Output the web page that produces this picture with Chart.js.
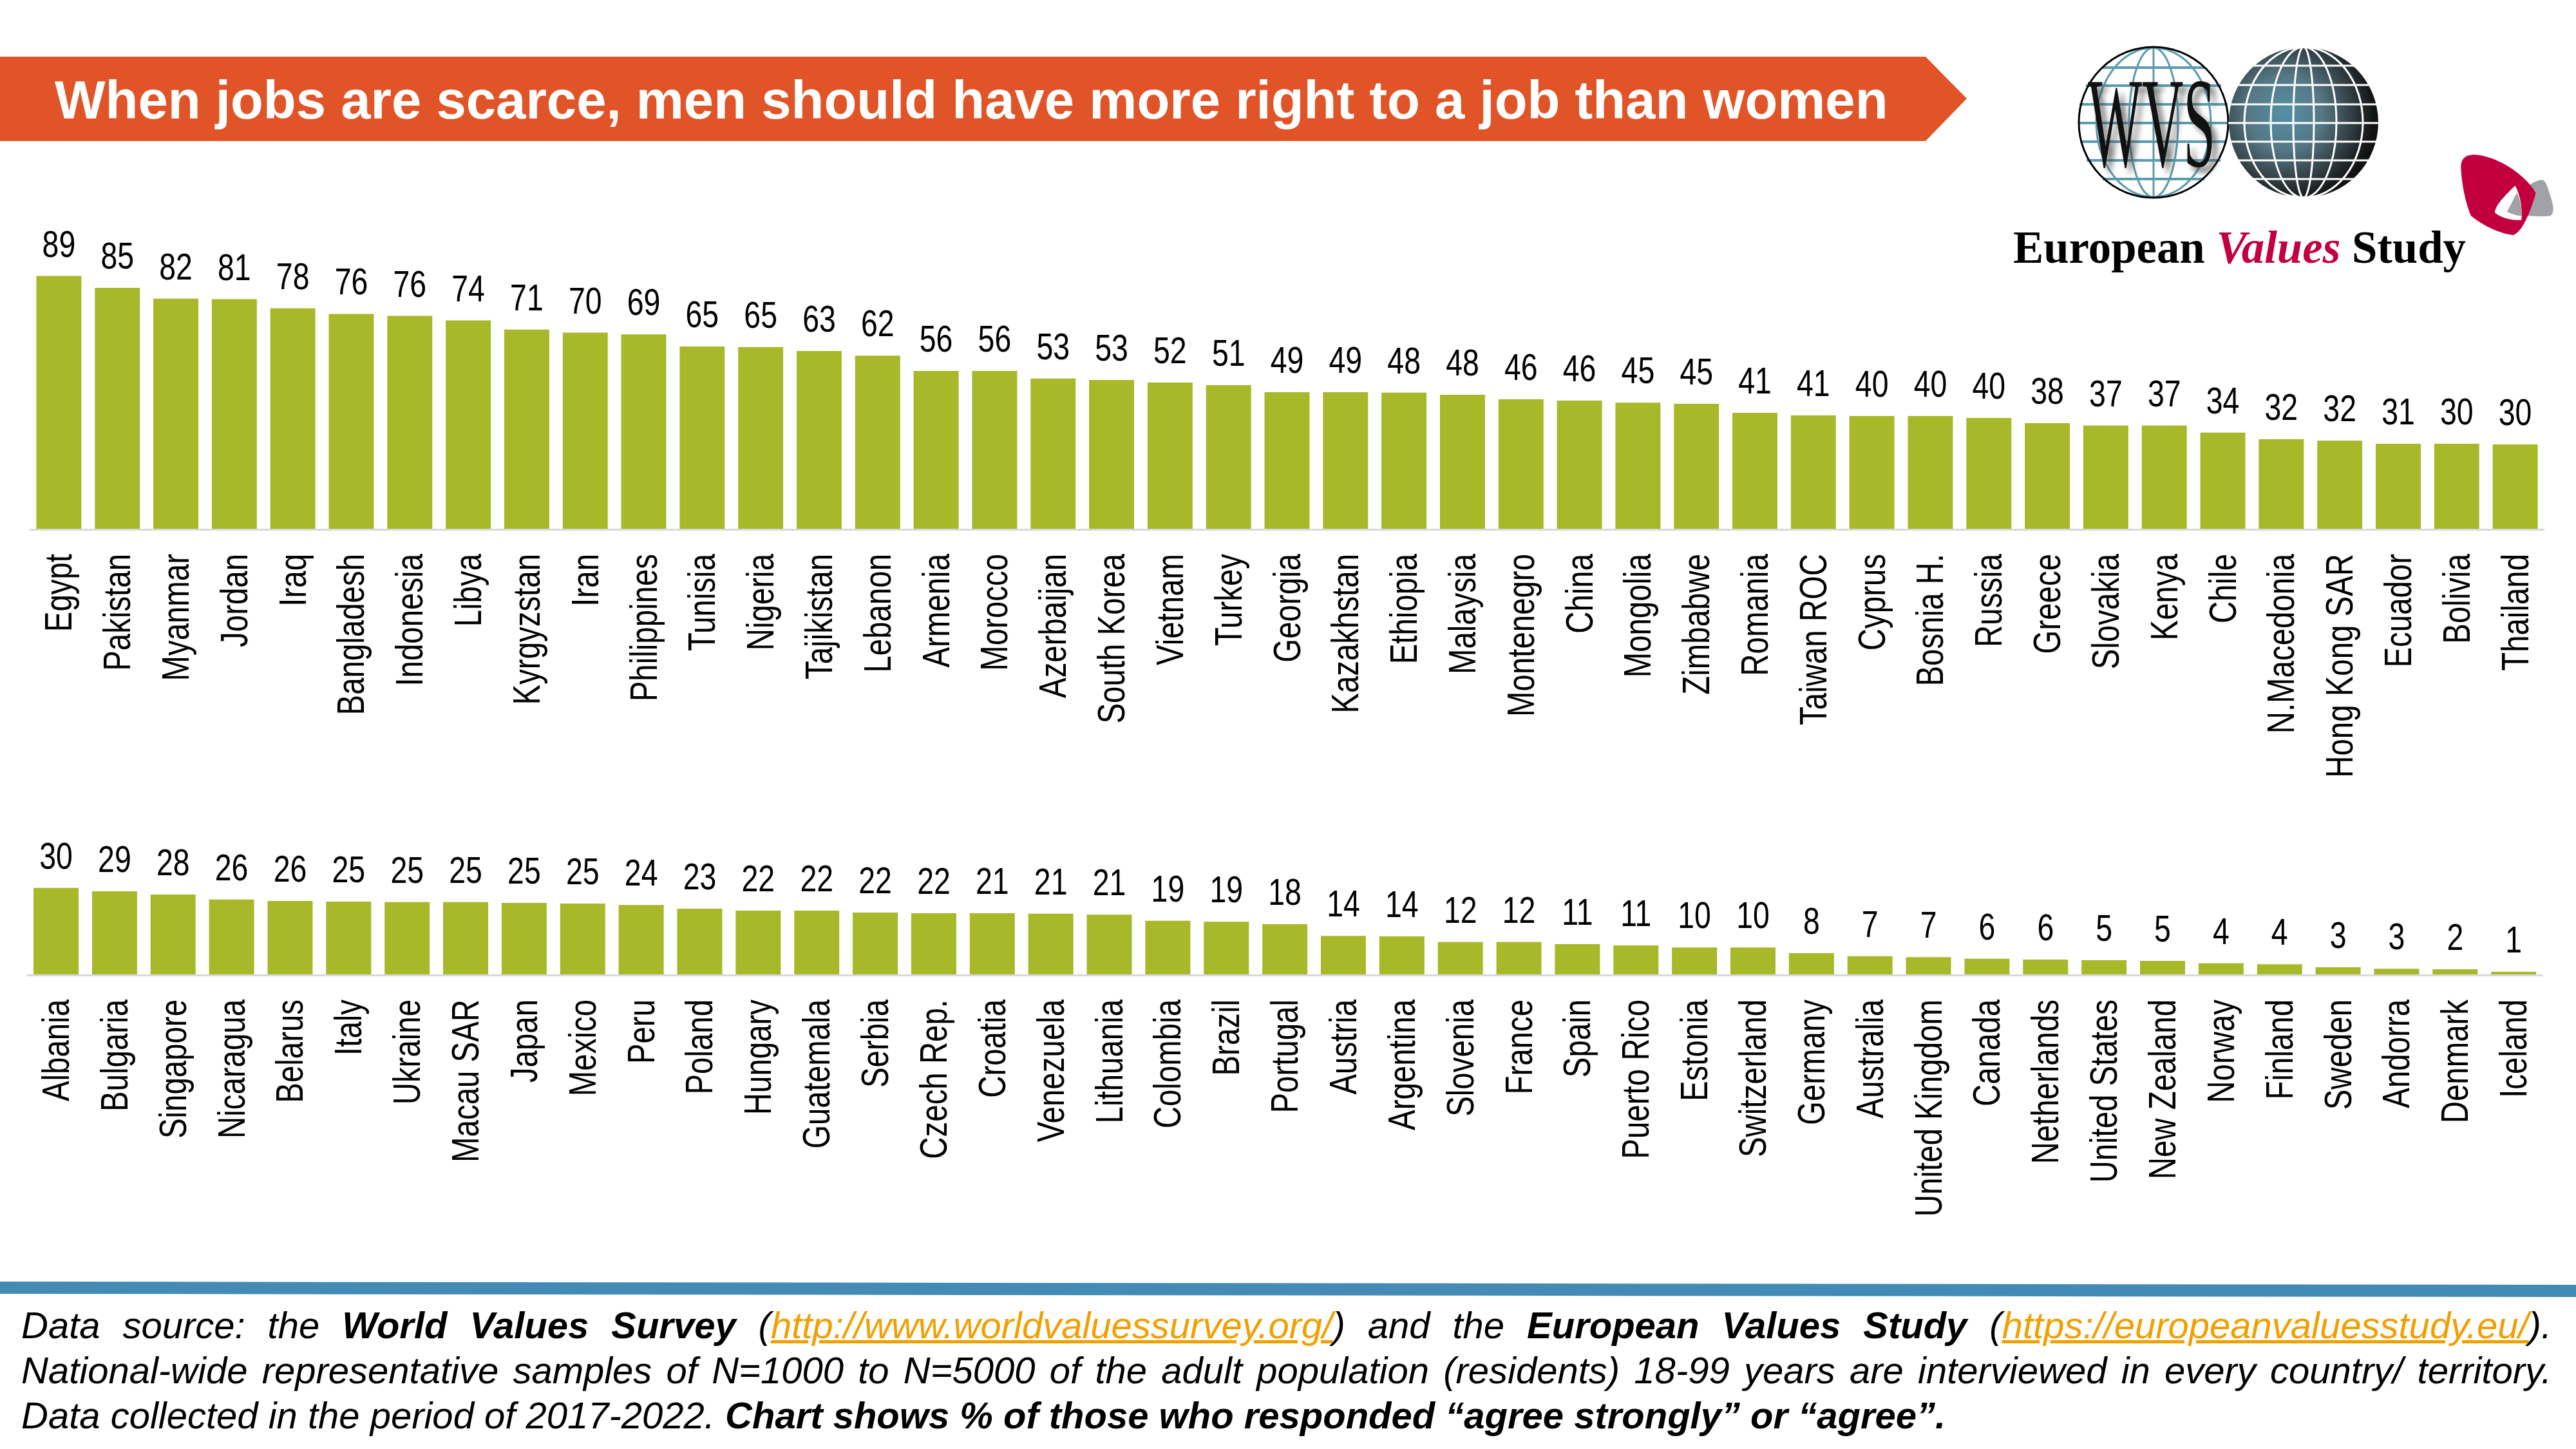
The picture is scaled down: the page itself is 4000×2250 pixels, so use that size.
<!DOCTYPE html>
<html>
<head>
<meta charset="utf-8">
<script src="https://cdn.jsdelivr.net/npm/chart.js@4"></script>
<style>
html,body{margin:0;padding:0;background:#fff;}
#page{position:relative;width:4000px;height:2250px;overflow:hidden;background:#fff;}
canvas{position:absolute;left:0;}
svg{position:absolute;left:0;top:0;}
#title{position:absolute;left:85px;top:106px;font:bold 83.3px "Liberation Sans",Arial,sans-serif;color:#fff;white-space:nowrap;line-height:100px;}
.foot{position:absolute;left:33px;width:3929px;font:italic 58px/70px "Liberation Sans",Arial,sans-serif;color:#000;white-space:normal;}
.just{text-align:justify;text-align-last:justify;}
.foot a{color:#F0A000;text-decoration:underline;}
</style>
</head>
<body>
<div id="page">
<svg width="4000" height="2250" viewBox="0 0 4000 2250">
  <defs>
    <radialGradient id="dark" gradientUnits="userSpaceOnUse" cx="3548" cy="175" r="145">
      <stop offset="0" stop-color="#5590A6"/><stop offset="0.4" stop-color="#557884"/><stop offset="0.7" stop-color="#354248"/><stop offset="0.95" stop-color="#131515"/><stop offset="1" stop-color="#111"/>
    </radialGradient>
    <filter id="blur" x="-20%" y="-20%" width="140%" height="140%"><feGaussianBlur stdDeviation="5"/></filter>
  </defs>
  <polygon points="0,88 2990,88 3054,153 2990,219 0,219" fill="#E05427"/>
  <polygon points="0,1990 4000,1995 4000,2014 0,2009" fill="#438BB5"/>
  <g fill="none" stroke="#5B9BAE" stroke-width="3">
    <ellipse cx="3344" cy="190" rx="89" ry="116"/>
    <ellipse cx="3344" cy="190" rx="38" ry="116"/>
    <line x1="3344" y1="74" x2="3344" y2="306"/>
    <line x1="3264" y1="105" x2="3424" y2="105" stroke-width="4"/>
    <line x1="3239" y1="133" x2="3449" y2="133" stroke-width="4"/>
    <line x1="3229" y1="162" x2="3459" y2="162" stroke-width="4"/>
    <line x1="3228" y1="191" x2="3460" y2="191" stroke-width="4"/>
    <line x1="3230" y1="220" x2="3458" y2="220" stroke-width="4"/>
    <line x1="3240" y1="249" x2="3448" y2="249" stroke-width="4"/>
    <line x1="3265" y1="278" x2="3423" y2="278" stroke-width="4"/>
  </g>
  <ellipse cx="3344" cy="190" rx="116" ry="117" fill="none" stroke="#000" stroke-width="3"/>
  <text x="3250" y="266" font-family="Liberation Serif" font-size="200" textLength="198" lengthAdjust="spacingAndGlyphs" fill="#444" opacity="0.75" filter="url(#blur)">WVS</text>
  <text x="3242" y="258" font-family="Liberation Serif" font-size="200" textLength="198" lengthAdjust="spacingAndGlyphs" fill="#111">WVS</text>
  <ellipse cx="3577" cy="190" rx="116" ry="117" fill="url(#dark)"/>
  <g fill="none" stroke="#fff" stroke-width="3">
    <ellipse cx="3577" cy="190" rx="92" ry="117"/>
    <ellipse cx="3577" cy="190" rx="51" ry="117"/>
    <ellipse cx="3577" cy="190" rx="16" ry="117"/>
    <line x1="3480" y1="102" x2="3674" y2="102"/>
    <line x1="3460" y1="132" x2="3694" y2="132"/>
    <line x1="3460" y1="162" x2="3694" y2="162"/>
    <line x1="3460" y1="191" x2="3694" y2="191"/>
    <line x1="3460" y1="220" x2="3694" y2="220"/>
    <line x1="3460" y1="249" x2="3694" y2="249"/>
    <line x1="3480" y1="278" x2="3674" y2="278"/>
  </g>
  <g transform="translate(3000 40) scale(0.6378 0.3333)">
    <path d="M1485,718 C1465,722 1450,745 1440,780 L1400,865 C1420,885 1470,892 1505,886 C1518,870 1512,830 1505,790 C1498,750 1495,720 1485,718 Z" fill="#A0A2A5"/>
    <path d="M1320,600 C1295,602 1286,625 1288,670 C1290,740 1298,820 1312,885 C1340,930 1385,970 1415,975 C1435,965 1455,880 1470,780 C1455,720 1390,610 1320,600 Z" fill="#C20040"/>
    <path d="M1420,745 C1395,790 1372,835 1370,870 C1385,895 1410,908 1435,905 C1438,850 1432,790 1420,745 Z" fill="#fff"/>
    <path d="M1424,778 C1415,810 1408,840 1400,866 C1412,878 1424,884 1436,886 C1436,850 1432,810 1424,778 Z" fill="#A0A2A5"/>
  </g>
  <text x="3126" y="408" font-family="Liberation Serif" font-weight="bold" font-size="72" textLength="703" lengthAdjust="spacingAndGlyphs" fill="#000">European <tspan font-style="italic" fill="#C20040">Values</tspan> Study</text>
</svg>
<div id="title">When jobs are scarce, men should have more right to a job than women</div>
<canvas id="top"></canvas>
<canvas id="bottom"></canvas>
<div class="foot just" style="top:2023px">Data source: the <b>World Values Survey</b> (<a>http://www.worldvaluessurvey.org/</a>) and the <b>European Values Study</b> (<a>https://europeanvaluesstudy.eu/</a>).</div>
<div class="foot just" style="top:2093px">National-wide representative samples of N=1000 to N=5000 of the adult population (residents) 18-99 years are interviewed in every country/ territory.</div>
<div class="foot" style="top:2163px">Data collected in the period of 2017-2022. <b>Chart shows % of those who responded “agree strongly” or “agree”.</b></div>
</div>
<script>
const categoriesTop = ["Egypt","Pakistan","Myanmar","Jordan","Iraq","Bangladesh","Indonesia","Libya","Kyrgyzstan","Iran","Philippines","Tunisia","Nigeria","Tajikistan","Lebanon","Armenia","Morocco","Azerbaijan","South Korea","Vietnam","Turkey","Georgia","Kazakhstan","Ethiopia","Malaysia","Montenegro","China","Mongolia","Zimbabwe","Romania","Taiwan ROC","Cyprus","Bosnia H.","Russia","Greece","Slovakia","Kenya","Chile","N.Macedonia","Hong Kong SAR","Ecuador","Bolivia","Thailand"];
const barsTop = [89.2,85.0,81.2,81.0,77.8,75.8,75.1,73.5,70.3,69.2,68.6,64.3,64.1,62.7,61.1,55.7,55.7,53.0,52.5,51.6,50.7,48.2,48.2,48.0,47.3,45.7,45.2,44.5,44.1,40.9,40.0,39.8,39.8,39.1,37.3,36.4,36.4,33.9,31.6,31.1,30.0,30.0,29.8];
const printedTop = [89,85,82,81,78,76,76,74,71,70,69,65,65,63,62,56,56,53,53,52,51,49,49,48,48,46,46,45,45,41,41,40,40,40,38,37,37,34,32,32,31,30,30];
const categoriesBottom = ["Albania","Bulgaria","Singapore","Nicaragua","Belarus","Italy","Ukraine","Macau SAR","Japan","Mexico","Peru","Poland","Hungary","Guatemala","Serbia","Czech Rep.","Croatia","Venezuela","Lithuania","Colombia","Brazil","Portugal","Austria","Argentina","Slovenia","France","Spain","Puerto Rico","Estonia","Switzerland","Germany","Australia","United Kingdom","Canada","Netherlands","United States","New Zealand","Norway","Finland","Sweden","Andorra","Denmark","Iceland"];
const barsBottom = [30.5,29.3,28.2,26.4,25.9,25.7,25.5,25.5,25.2,25.0,24.5,23.2,22.5,22.5,21.8,21.6,21.6,21.4,21.1,18.9,18.6,17.7,13.6,13.4,11.4,11.4,10.7,10.2,9.5,9.5,7.5,6.4,6.1,5.5,5.2,5.0,4.8,3.9,3.6,2.5,2.0,1.8,0.9];
const printedBottom = [30,29,28,26,26,25,25,25,25,25,24,23,22,22,22,22,21,21,21,19,19,18,14,14,12,12,11,11,10,10,8,7,7,6,6,5,5,4,4,3,3,2,1];

const SANS = '"Liberation Sans",Arial,sans-serif';
const CONDENSE_VALUE = 0.8;
const CONDENSE_TICK = 0.79;

function makeChart(id, cfg){
  const canvas = document.getElementById(id);
  canvas.style.top = cfg.top + 'px';
  canvas.width = 4000; canvas.height = cfg.height;
  canvas.style.width = '4000px'; canvas.style.height = cfg.height + 'px';
  const overlay = {
    id: 'overlay',
    beforeDatasetsDraw(chart){
      const c = chart.ctx, a = chart.chartArea;
      c.save(); c.fillStyle = '#D9D9D9';
      c.fillRect(a.left, a.bottom, a.right - a.left, 3);
      c.restore();
    },
    afterDatasetsDraw(chart){
      const c = chart.ctx, meta = chart.getDatasetMeta(0), xs = chart.scales.x, a = chart.chartArea;
      c.save();
      c.font = '58px ' + SANS;
      c.fillStyle = '#000';
      c.textAlign = 'center';
      c.textBaseline = 'alphabetic';
      meta.data.forEach((bar, i) => {
        c.save();
        c.translate(bar.x, bar.y - 30);
        c.scale(CONDENSE_VALUE, 1);
        c.fillText(String(cfg.printed[i]), 0, 0);
        c.restore();
      });
      c.font = '60px ' + SANS;
      c.textAlign = 'right';
      xs.ticks.forEach((t, i) => {
        c.save();
        c.translate(xs.getPixelForTick(i) + 20, a.bottom + 39);
        c.rotate(-Math.PI / 2);
        c.scale(CONDENSE_TICK, 1);
        c.fillText(String(t.label), 0, 0);
        c.restore();
      });
      c.restore();
    }
  };
  return new Chart(canvas, {
    type: 'bar',
    data: { labels: cfg.labels, datasets: [{ data: cfg.values, backgroundColor: '#A7B828', borderWidth: 0,
      barPercentage: 0.77, categoryPercentage: 1 }] },
    options: {
      responsive: false, animation: false, devicePixelRatio: 1,
      layout: { padding: { top: cfg.padTop, left: cfg.left, right: cfg.right, bottom: 0 } },
      plugins: { legend: { display: false }, tooltip: { enabled: false }, title: { display: false } },
      scales: {
        y: { display: false, min: 0, max: cfg.max },
        x: {
          grid: { display: false },
          border: { display: false },
          afterFit(s){ s.height = cfg.axisHeight; s.paddingLeft = 0; s.paddingRight = 0; },
          ticks: { autoSkip: false, display: false }
        }
      }
    },
    plugins: [overlay]
  });
}

makeChart('top', { top: 340, height: 900, padTop: 41, max: 100, left: 46, right: 49,
  axisHeight: 1240 - 821, labels: categoriesTop, values: barsTop, printed: printedTop });
makeChart('bottom', { top: 1290, height: 690, padTop: 3, max: 50, left: 41.6, right: 51.4,
  axisHeight: 1980 - 1513, labels: categoriesBottom, values: barsBottom, printed: printedBottom });
</script>
</body>
</html>
